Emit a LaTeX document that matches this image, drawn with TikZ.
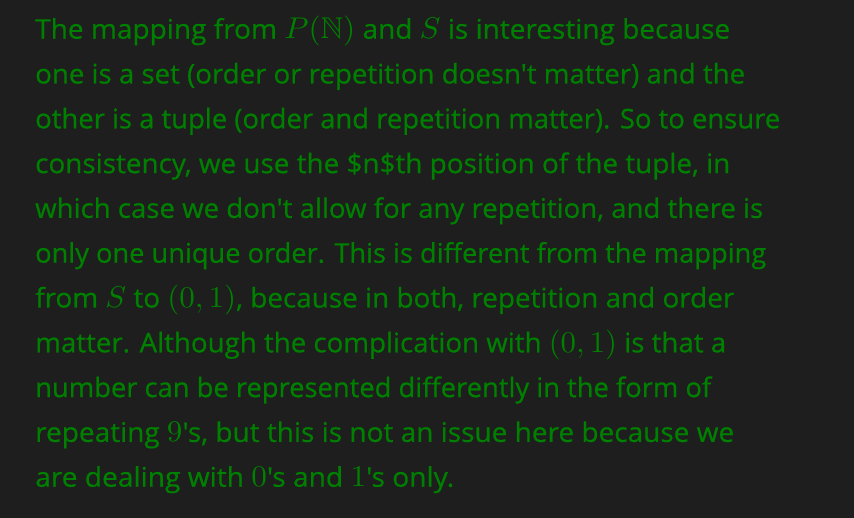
\documentclass[tikz,border=0pt]{standalone}
\usepackage{amsmath,amssymb}
\usepackage[no-math]{fontspec}
\usepackage{graphicx}
\DeclareFontShape{OML}{cmm}{m}{it}{<->cmmi10}{\skewchar\font127}
\DeclareFontShape{OT1}{cmr}{m}{n}{<->cmr10}{}
\DeclareFontShape{OMS}{cmsy}{m}{n}{<->cmsy10}{\skewchar\font48}
\newfontfamily\bodyfont{Open Sans}[Ligatures=TeXOff,FakeBold=0.6]
\definecolor{bgdark}{RGB}{30,30,30}
\definecolor{txtgreen}{RGB}{0,128,0}
\newcommand\mth[1]{{\fontsize{30}{30}\selectfont$#1$}}
\newcommand\fitline[2]{\sbox0{#2}\pgfmathsetmacro\fitf{#1/\wd0}\scalebox{\fitf}[1]{\usebox0}}
\tikzset{textline/.style={anchor=base west, inner sep=0pt, text=txtgreen,
  font=\bodyfont\fontsize{27}{30}\selectfont}}
\begin{document}
\begin{tikzpicture}[x=1pt,y=1pt]
\fill[bgdark] (0,0) rectangle (854,-518);
\useasboundingbox (0,0) rectangle (854,-518);
\node[textline] (l1) at (35,-38.7) {\fitline{695}{The mapping from \mth{P(\mathbb{N})} and \mth{S} is interesting because}};
\node[textline] (l2) at (35,-83.5) {\fitline{710}{one is a set (order or repetition doesn't matter) and the}};
\node[textline] (l3) at (35,-128.3) {\fitline{745}{other is a tuple (order and repetition matter). So to ensure}};
\node[textline] (l4) at (35,-173.1) {\fitline{695}{consistency, we use the \$n\$th position of the tuple, in}};
\node[textline] (l5) at (35,-217.9) {\fitline{728}{which case we don't allow for any repetition, and there is}};
\node[textline] (l6) at (35,-262.7) {\fitline{731}{only one unique order. This is different from the mapping}};
\node[textline] (l7) at (35,-307.5) {\fitline{699}{from \mth{S} to \mth{(0,1)}, because in both, repetition and order}};
\node[textline] (l8) at (35,-352.3) {\fitline{691}{matter. Although the complication with \mth{(0,1)} is that a}};
\node[textline] (l9) at (35,-397.1) {\fitline{676}{number can be represented differently in the form of}};
\node[textline] (l10) at (35,-441.9) {\fitline{699}{repeating \mth{9}'s, but this is not an issue here because we}};
\node[textline] (l11) at (35,-486.7) {\fitline{419}{are dealing with \mth{0}'s and \mth{1}'s only.}};
\end{tikzpicture}
\end{document}
